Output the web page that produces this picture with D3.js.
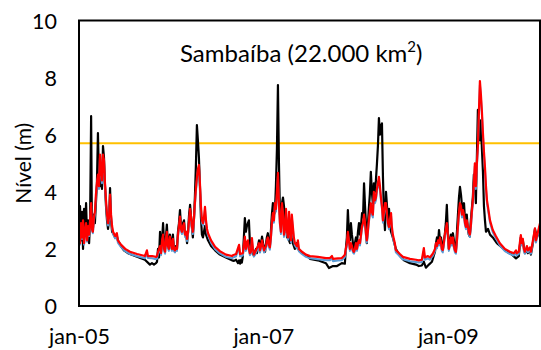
<!DOCTYPE html>
<html><head><meta charset="utf-8">
<script src="https://cdn.jsdelivr.net/npm/d3@7"></script>
<style>
html,body{margin:0;padding:0;background:#fff;}
svg{display:block;font-family:Lato,"Open Sans",sans-serif;}
</style></head><body>
<svg id="chart" width="541" height="350"></svg>
<script>
// Daily water level at Sambaíba, 2005–2009. Time is in days since 2005-01-01.
const obsDays = [
  0,4,8,12,16,20,24,28,32,36, 40,44,48,51,55,59,63,67,71,75, 79,83,87,91,95,99,103,107,111,115,
  119,123,127,131,135,143,150,154,166,178, 194,222,261,281,289,297,305,
  309,313,317,321,325,329,333,337,341,345, 348,352,356,360,364,368,372,376,380,384,
  388,392,396,400,404,408,412,416,420,424, 428,432,436,440,444,447,451,455,459,463,
  467,471,475,479,483,487,491,495,499,503, 511,523,539,558,582,606,
  614,622,630,634,638,642,645,649,653,657, 661,665,669,673,677,681,685,689,693,697,
  701,705,709,713,717,721,725,729,733,737, 741,744,748,752,756,760,764,768,772,776,
  780,784,788,792,796,800,804,808,812,816, 820,824,828,832,836,840,843,847,855,863,
  871,879,891,907,915,
  946,978,990,1006,1022,1041,1053,1057,1061,1065, 1069,1073,1077,1081,1085,1089,1093,1097,1101,1105,
  1109,1113,1117,1121,1125,1129,1133,1137,1140,1144, 1148,1152,1156,1160,1164,1168,1172,1176,1180,1184,
  1188,1192,1196,1200,1204,1208,1212,1216,1220,1224, 1228,1232,1236,1243,1255,1271,1287,1311,1335,1346,
  1358,1366,1374,1386,1398,1410,
  1414,1418,1422,1426,1430,1434,1437,1441,1445,1449, 1453,1457,1461,1465,1469,1473,1477,1481,1485,1489,
  1493,1497,1501,1505,1509,1513,1517,1521,1525,1529, 1533,1536,1540,1544,1548,1552,1556,1560,1564,1568,
  1572,1576,1580,1584,1588,1592,1596,1600,1604,1608, 1612,1620,1628,1639,1655,1675,1695,1715,1731,1742,
  1750,1754,1758,1766,1774,1778,1786,1790,1798,1806, 1814,1822,1826
];
// observed level (m)
const obsLevel = [
  2.8,3.5,2.3,3.3,2.0,3.4,2.6,3.6,2.4,3.0, 2.2,3.0,6.65,3.0,2.7,3.2,2.9,3.6,4.3,6.06, 4.5,4.2,4.8,4.1,5.6,5.2,4.2,3.5,3.0,2.7,
  3.0,4.13,3.0,2.6,2.55,2.4,2.45,2.3,2.1,1.95, 1.85,1.75,1.62,1.45,1.5,1.45,1.5,
  1.55,2.0,1.7,2.6,1.9,2.3,2.9,2.2,2.0,2.5, 2.85,2.2,2.1,2.5,2.3,2.0,2.5,2.0,1.9,2.1,
  2.0,2.6,2.9,3.36,2.8,2.7,2.9,3.0,2.5,2.6, 2.2,2.6,3.2,3.54,3.1,2.8,2.4,3.0,3.8,4.9,
  6.34,5.8,5.2,4.2,3.1,2.5,2.4,2.6,2.8,2.5, 2.3,2.1,1.95,1.8,1.7,1.6,
  1.58,1.62,1.5,1.6,1.48,1.62,1.52,1.75,2.4,3.08, 2.6,2.8,2.9,3.0,2.2,1.9,2.1,1.85,1.75,1.9,
  2.0,1.85,2.1,2.3,2.0,2.2,2.43,2.2,2.0,1.9, 2.2,2.4,2.55,2.2,2.1,2.6,3.2,3.6,3.2,3.3,
  4.2,5.5,7.74,5.0,3.2,3.4,3.6,3.8,3.5,2.6, 3.1,2.4,2.9,2.3,2.2,2.6,2.4,2.2,2.0,2.2,
  1.95,1.9,1.8,1.75,1.65,
  1.6,1.5,1.33,1.4,1.4,1.5,1.48,2.0,2.4,3.36, 2.6,2.3,2.9,2.5,2.2,2.0,2.2,2.4,2.2,2.6,
  2.9,2.5,2.8,3.25,3.1,4.3,3.5,2.8,2.2,2.8, 3.4,3.9,4.7,4.0,3.6,4.3,4.0,4.4,4.96,5.6,
  6.58,6.0,6.3,6.4,4.5,3.2,2.66,4.0,3.5,3.0, 3.4,2.8,2.6,2.4,2.0,1.75,1.6,1.5,1.45,1.4,
  1.42,1.55,1.34,1.45,1.55,1.9,
  2.2,2.4,2.2,2.66,2.3,2.4,2.1,1.96,2.3,2.5, 2.9,3.54,2.6,2.0,2.2,2.5,2.4,2.55,2.3,2.0,
  1.95,2.6,3.2,3.8,4.17,3.9,3.5,3.3,3.6,3.0, 2.8,3.2,2.7,2.5,2.43,3.0,3.4,3.8,4.6,4.3,
  3.6,5.2,6.87,6.2,5.8,6.5,5.5,4.7,3.5,3.0, 2.6,2.7,2.5,2.4,2.2,2.05,1.9,1.8,1.67,1.75,
  2.4,2.2,2.3,1.85,2.0,1.85,1.95,1.8,2.2,2.7, 2.4,2.6,2.55
];

const simDays = [
  0,4,8,12,16,20,24,28,32,36,40,44,48, 51,55,59,63,67,71,75,79,83,87,91,95,99,103,107,111,115,119,123,127,131,135,
  143,150,154,166,183,202,230,261,269,273,289,305,
  309,313,321,325,329,333,337,341,345,348, 352,356,360,364,368,372,376,380,384,388,
  392,396,400,404,408,412,416,420,424,428, 432,436,440,444,447,451,455,459,463,467,
  471,475,479,483,487,491,495,499,503,507, 511,523,539,558,582,606,
  610,622,634,638,649,657,661,665,669,673, 677,681,685,689,693,701,709,713,717,721,
  725,729,733,741,744,748,752,756,760,764, 768,772,776,780,784,788,792,796,800,804,
  808,812,816,820,824,828,832,836,840,843, 847,851,855,863,867,871,883,899,915,
  946,978,994,1002,1006,1026,1041,1049,1053,1057, 1061,1065,1069,1073,1077,1081,1085,1089,1093,1097,
  1101,1105,1109,1113,1117,1121,1125,1129,1133,1137, 1140,1144,1148,1152,1156,1160,1164,1168,1172,1176,
  1180,1184,1188,1192,1196,1200,1204,1208,1212,1216, 1220,1224,1228,1232,1236,1239,1243,1251,1255,1271,
  1283,1311,1335,1346,1358,1366,1370,1382,1390,1402,
  1410,1414,1418,1422,1426,1430,1434,1437,1441,1445, 1449,1453,1457,1461,1465,1469,1473,1477,1481,1485,
  1489,1493,1497,1501,1505,1509,1513,1517,1521,1525, 1529,1533,1536,1540,1544,1548,1552,1556,1560,1564,
  1568,1572,1576,1580,1584,1588,1592,1596,1600,1604, 1608,1612,1616,1620,1628,1639,1651,1667,1687,1707,
  1723,1731,1734,1742,1746,1750,1754,1758,1762,1766, 1774,1778,1786,1790,1798,1806,1810,1818,1826
];
// simulated level, calibration run (m)
const simLevelCal = [
  2.62,2.15,2.82,2.35,2.92,2.15,2.55,2.82,2.25,2.72,2.45,2.92,3.5,
  2.65,2.55,3.0,3.2,3.8,4.2,4.5,4.1,5.2,4.7,4.3,5.2,5.0,4.2,3.6,3.1,2.82,3.0,3.8,3.1,2.72,2.52,
  2.37,2.45,2.22,2.07,1.92,1.82,1.74,1.67,1.85,1.68,1.67,1.64,
  1.66,1.82,2.02,1.78,2.22,2.42,1.93,1.83,2.27,2.52, 2.03,1.93,2.35,2.12,1.93,2.27,1.93,1.88,1.97,1.93,
  2.42,2.72,3.05,2.62,2.52,2.72,2.82,2.42,2.52,2.27, 2.52,2.92,3.3,3.0,2.72,2.52,2.92,3.5,4.0,4.4,
  4.7,4.85,4.2,3.42,2.92,2.82,3.0,3.38,2.92,2.62, 2.47,2.22,1.99,1.84,1.72,1.67,
  1.7,1.74,2.06,1.74,1.77,2.35,1.93,2.12,2.22,1.93, 1.78,1.83,2.3,1.93,1.73,1.87,2.02,2.12,1.87,2.02,
  2.22,2.02,1.87,2.02,2.22,2.32,2.07,1.97,2.32,2.82, 3.17,2.92,3.5,3.3,3.9,4.55,3.5,2.82,2.52,3.5,
  3.12,2.42,2.62,3.3,2.52,2.32,3.2,2.52,2.22,3.1, 2.72,2.32,2.12,2.02,2.22,1.92,1.82,1.72,1.67,
  1.64,1.6,1.6,1.67,1.57,1.59,1.6,1.67,1.72,1.92, 2.12,2.52,2.22,1.93,2.12,2.02,1.88,1.83,1.93,2.12,
  1.93,2.12,2.23,2.12,2.42,2.72,2.82,3.1,2.82,2.42, 2.22,2.52,2.92,3.2,3.5,3.2,3.1,3.9,3.6,3.7,
  4.0,4.2,4.4,4.1,3.7,3.4,2.92,3.2,3.5,3.5, 3.1,2.82,2.69,2.92,3.17,2.72,2.42,2.12,1.88,1.74,
  1.64,1.57,1.54,1.52,1.54,1.93,1.62,1.67,1.62,1.76,
  1.92,2.12,2.02,2.22,2.12,2.32,2.12,1.93,1.88,2.12, 2.42,2.62,2.82,2.42,1.93,2.12,2.32,2.12,2.32,2.02,
  1.88,1.83,2.22,2.72,3.2,3.5,3.4,3.1,3.28,3.1, 2.82,2.69,2.92,2.72,2.52,2.42,2.72,3.2,3.6,4.2,
  4.9,4.1,4.9,5.5,6.7,7.75,7.3,6.7,5.95,5.3, 4.77,4.1,3.6,3.38,2.92,2.58,2.37,2.12,1.92,1.82,
  1.77,1.86,1.77,1.82,2.12,2.4,2.12,2.27,1.93,1.83, 2.02,1.88,1.97,1.83,2.22,2.64,2.22,2.52,2.82
];
// simulated level, validation run (m)
const simLevelVal = [
  2.7,2.2,2.9,2.4,3.0,2.2,2.6,2.9,2.3,2.8,2.5,3.0,3.6,
  2.7,2.6,3.1,3.3,3.9,4.3,4.6,4.2,5.3,4.8,4.4,5.3,5.1,4.3,3.7,3.2,2.9,3.1,3.9,3.2,2.8,2.6,
  2.45,2.55,2.3,2.15,2.0,1.9,1.82,1.75,1.95,1.75,1.75,1.72,
  1.75,1.9,2.1,1.85,2.3,2.5,2.0,1.9,2.35,2.6, 2.1,2.0,2.43,2.2,2.0,2.35,2.0,1.95,2.05,2.0,
  2.5,2.8,3.13,2.7,2.6,2.8,2.9,2.5,2.6,2.35, 2.6,3.0,3.4,3.1,2.8,2.6,3.0,3.6,4.1,4.5,
  4.8,4.94,4.3,3.5,3.0,2.9,3.1,3.47,3.0,2.7, 2.55,2.3,2.07,1.92,1.8,1.75,
  1.78,1.82,2.14,1.82,1.85,2.43,2.0,2.2,2.3,2.0, 1.85,1.9,2.38,2.0,1.8,1.95,2.1,2.2,1.95,2.1,
  2.3,2.1,1.95,2.1,2.3,2.4,2.15,2.05,2.4,2.9, 3.25,3.0,3.6,3.4,4.0,4.66,3.6,2.9,2.6,3.6,
  3.2,2.5,2.7,3.4,2.6,2.4,3.3,2.6,2.3,3.2, 2.8,2.4,2.2,2.1,2.3,2.0,1.9,1.8,1.75,
  1.72,1.68,1.68,1.75,1.65,1.67,1.68,1.75,1.8,2.0, 2.2,2.6,2.3,2.0,2.2,2.1,1.95,1.9,2.0,2.2,
  2.0,2.2,2.31,2.2,2.5,2.8,2.9,3.2,2.9,2.5, 2.3,2.6,3.0,3.3,3.6,3.3,3.2,4.0,3.7,3.8,
  4.1,4.3,4.52,4.2,3.8,3.5,3.0,3.3,3.6,3.6, 3.2,2.9,2.77,3.0,3.25,2.8,2.5,2.2,1.96,1.82,
  1.72,1.65,1.62,1.6,1.62,2.03,1.7,1.75,1.7,1.84,
  2.0,2.2,2.1,2.3,2.2,2.4,2.2,2.0,1.96,2.2, 2.5,2.7,2.9,2.5,2.0,2.2,2.4,2.2,2.4,2.1,
  1.95,1.9,2.3,2.8,3.3,3.6,3.5,3.2,3.36,3.2, 2.9,2.77,3.0,2.8,2.6,2.5,2.8,3.3,3.7,4.3,
  5.0,4.2,5.0,5.6,6.8,7.88,7.4,6.8,6.06,5.4, 4.87,4.2,3.7,3.47,3.0,2.66,2.45,2.2,2.0,1.9,
  1.85,1.95,1.85,1.9,2.2,2.48,2.2,2.35,2.0,1.9, 2.1,1.95,2.05,1.9,2.3,2.72,2.3,2.6,2.9
];

// reference (alert) level, m
const alertLevel = 5.7;

const yTicks = [0, 2, 4, 6, 8, 10];
const xTickDates = ["2005-01-01", "2007-01-01", "2009-01-01"];
const xTickLabels = ["jan-05", "jan-07", "jan-09"];
const titleText = "Sambaíba (22.000 km";
const titleSup = "2";
const yLabel = "Nível (m)";

const start = new Date(2005, 0, 1);
const toDate = d => d3.timeDay.offset(start, d);
const parse = d3.timeParse("%Y-%m-%d");

const svg = d3.select("#chart");
const plotL = 79, plotR = 540, plotT = 20.5, plotB = 306;
const font = "Lato, 'Open Sans', sans-serif";

const x = d3.scaleTime().domain([start, new Date(2010, 0, 1)]).range([plotL, plotR]);
const y = d3.scaleLinear().domain([0, 10]).range([plotB, plotT]);

svg.append("defs").append("clipPath").attr("id", "plot")
  .append("rect").attr("x", plotL).attr("y", plotT).attr("width", plotR - plotL).attr("height", plotB - plotT);

// reference level
svg.append("line")
  .attr("x1", plotL).attr("x2", plotR)
  .attr("y1", y(alertLevel)).attr("y2", y(alertLevel))
  .attr("stroke", "#FFC000").attr("stroke-width", 2.2);

const line = d3.line().x(d => x(d[0])).y(d => y(d[1]));
const zipped = (days, vals) => days.map((d, i) => [toDate(d), vals[i]]);

const g = svg.append("g").attr("clip-path", "url(#plot)");
[
  {data: zipped(obsDays, obsLevel), color: "#000000", w: 2.2},
  {data: zipped(simDays, simLevelCal), color: "#5B9BD5", w: 2},
  {data: zipped(simDays, simLevelVal), color: "#FF0000", w: 2.2}
].forEach(s => {
  g.append("path").datum(s.data)
    .attr("d", line)
    .attr("fill", "none")
    .attr("stroke", s.color)
    .attr("stroke-width", s.w)
    .attr("stroke-linejoin", "round");
});

// frame
svg.append("rect")
  .attr("x", plotL).attr("y", plotT).attr("width", plotR - plotL).attr("height", plotB - plotT)
  .attr("fill", "none").attr("stroke", "#000").attr("stroke-width", 2);

// y axis labels
const yAxis = svg.append("g").attr("transform", `translate(${plotL},0)`)
  .call(d3.axisLeft(y).tickValues(yTicks).tickSize(0).tickPadding(22).tickFormat(d3.format("d")));
yAxis.select(".domain").remove();
yAxis.selectAll("text").attr("font-size", 21.5).attr("font-family", font)
  .attr("fill", "#000").attr("dy", "0.36em");

// x axis labels
const xAxis = svg.append("g").attr("transform", `translate(0,${plotB})`)
  .call(d3.axisBottom(x).tickValues(xTickDates.map(parse)).tickSize(0)
    .tickFormat((d, i) => xTickLabels[i]));
xAxis.select(".domain").remove();
xAxis.selectAll("text").attr("font-size", 21.5).attr("font-family", font)
  .attr("fill", "#000").attr("y", 38).attr("dy", 0);

// title
const t = svg.append("text").attr("x", 180).attr("y", 62)
  .attr("font-size", 24).attr("fill", "#000").text(titleText);
t.append("tspan").attr("font-size", 15).attr("dy", -10).text(titleSup);
t.append("tspan").attr("dy", 10).text(")");

// y axis title
svg.append("text")
  .attr("transform", `translate(31,${(plotT + plotB) / 2}) rotate(-90)`)
  .attr("text-anchor", "middle").attr("font-size", 21).attr("fill", "#000")
  .text(yLabel);
</script>
</body></html>
